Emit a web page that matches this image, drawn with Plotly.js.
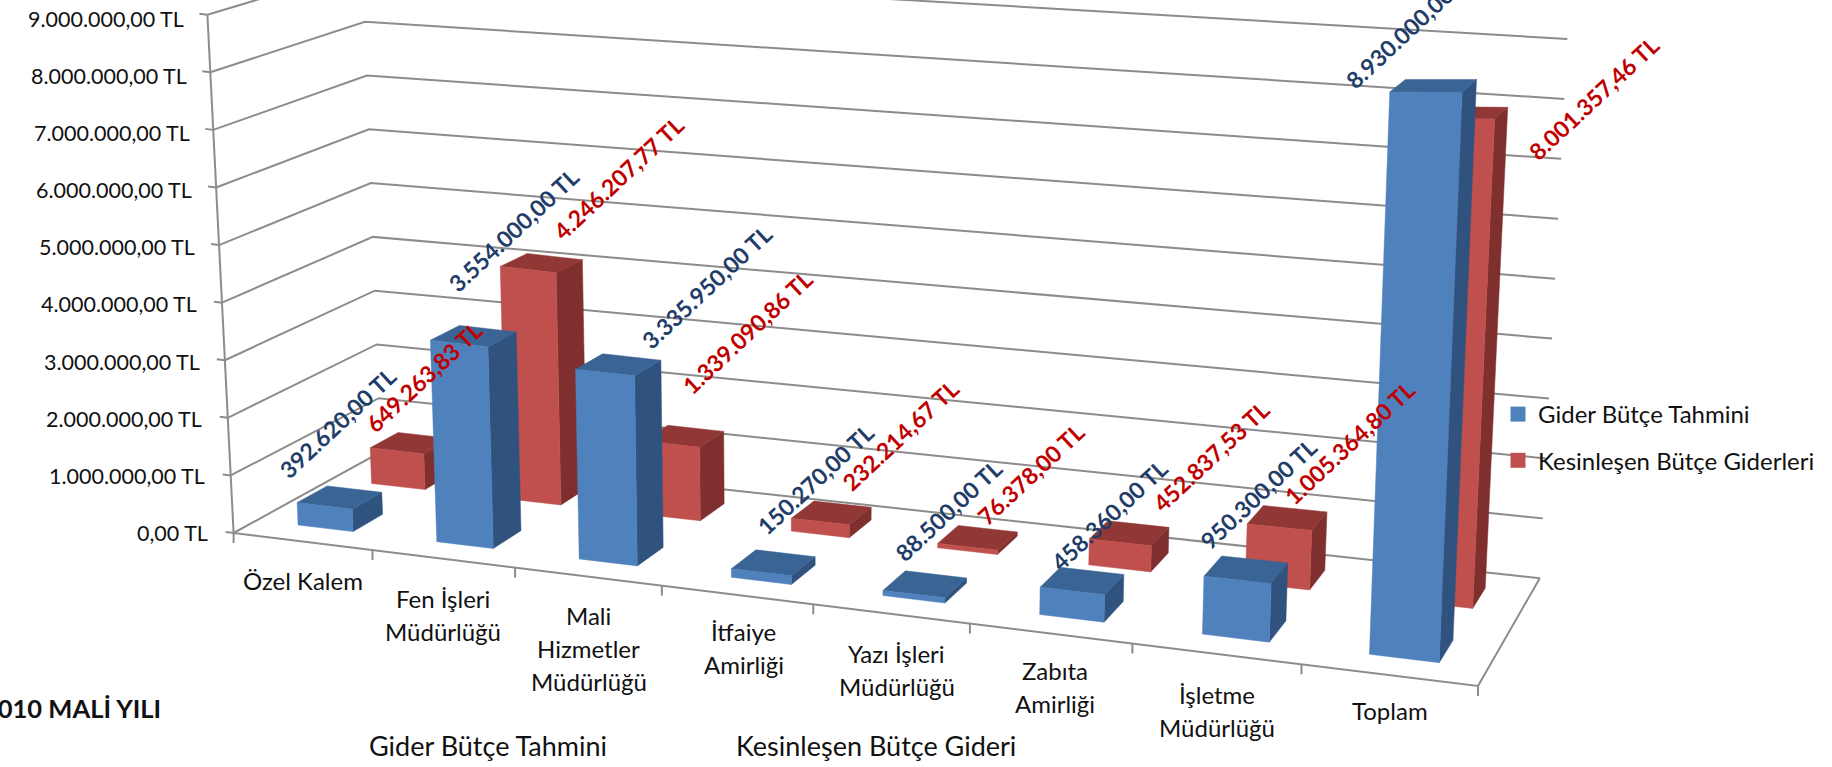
<!DOCTYPE html>
<html><head><meta charset="utf-8">
<script src="https://cdn.plot.ly/plotly-3.0.1.min.js"></script>
<style>html,body{margin:0;padding:0;background:#fff;overflow:hidden}#c{width:1832px;height:767px}</style>
</head><body><div id="c"></div>
<script>
// ---- data ----
const categories = [['Özel Kalem'],['Fen İşleri','Müdürlüğü'],['Mali','Hizmetler','Müdürlüğü'],['İtfaiye','Amirliği'],['Yazı İşleri','Müdürlüğü'],['Zabıta','Amirliği'],['İşletme','Müdürlüğü'],['Toplam']];
const giderTahmini = [392620, 3554000, 3335950, 150270, 88500, 458360, 950300, 8930000];
const kesinlesen = [649263.83, 4246207.77, 1339090.86, 232214.67, 76378, 452837.53, 1005364.80, 8001357.46];
const valueTicks = [0,1000000,2000000,3000000,4000000,5000000,6000000,7000000,8000000,9000000];
const seriesNames = ['Gider Bütçe Tahmini','Kesinleşen Bütçe Giderleri'];

// ---- layout calibration of the 3D box (not data) ----
const floorQuad = [[233.6,533],[1478,686],[1539.8,578.3],[380.7,452]];   // FL, FR, BR, BL
const riseFL=[-26.2,-518.3], riseFR=[24.5,-589], riseBR=[27.5,-539.3], riseBL=[-17.7,-484];
const maxVal = 9000000;
const barNudge = [0,0,0,0.0047,0.0047,0.0047,0.0047,0.003];
const blueLabelOff = [[-2,-74],[40,-106],[88,-78],[42,-84],[24,-74],[27,-66],[12,-76],[-23,-59]];
const redLabelOff  = [[13,-66],[77,-85],[64,-104],[69,-78],[53,-64],[82,-77],[62,-75],[127,-15]];
const catNudgeX = [0,0,1,7,6,5,1,1];
const catLabelY = [580,598,615,631,653,670,694,710];
const FONT = 'Lato, Carlito, Calibri, sans-serif';
const TXT = '#111111', GRID = '#8c8c8c';

function squareToQuad(q){
  const [[x0,y0],[x1,y1],[x2,y2],[x3,y3]] = q;
  const dx1=x1-x2, dx2=x3-x2, sx=x0-x1+x2-x3, dy1=y1-y2, dy2=y3-y2, sy=y0-y1+y2-y3;
  const det=dx1*dy2-dx2*dy1;
  const g=(sx*dy2-dx2*sy)/det, h=(dx1*sy-sx*dy1)/det;
  const a=x1-x0+g*x1, b=x3-x0+h*x3, c=x0, d=y1-y0+g*y1, e=y3-y0+h*y3, f=y0;
  return (u,v)=>{const k=g*u+h*v+1; return [(a*u+b*v+c)/k,(d*u+e*v+f)/k];};
}
const H0=squareToQuad(floorQuad);
function P(u0,v,val,shift){
  const u=u0+0.04*u0*(1-u0)*(1-0.6*u0)+(shift||0);
  const a=H0(u,v), t=val/maxVal*(1-0.2*u0*(1-u0));
  const r=[0,1].map(k=>(riseFL[k]*(1-u)+riseFR[k]*u)*(1-v)+(riseBL[k]*(1-u)+riseBR[k]*u)*v);
  return [a[0]+r[0]*t, a[1]+r[1]*t];
}
const N=categories.length, BAR=0.4, ROW=[[0.15,0.35],[0.65,0.85]];
function barRange(i){const c=(i+0.5)/N, h=BAR/N/2; return [c-h,c+h];}

function faces(vals,row){
  const [v0,v1]=ROW[row];
  const F=[[],[]],S=[[],[]],T=[[],[]];
  const add=(A,pts)=>{pts.concat([pts[0]]).forEach(p=>{A[0].push(p[0]);A[1].push(p[1]);});A[0].push(null);A[1].push(null);};
  vals.forEach((val,i)=>{
    const [u0,u1]=barRange(i), s=barNudge[i];
    add(F,[P(u0,v0,0,s),P(u1,v0,0,s),P(u1,v0,val,s),P(u0,v0,val,s)]);
    add(S,[P(u1,v0,0,s),P(u1,v1,0,s),P(u1,v1,val,s),P(u1,v0,val,s)]);
    add(T,[P(u0,v0,val,s),P(u1,v0,val,s),P(u1,v1,val,s),P(u0,v1,val,s)]);
  });
  return {F,S,T};
}
function poly(A,color){return {type:'scatter',mode:'lines',x:A[0],y:A[1],fill:'toself',fillcolor:color,line:{color:color,width:0.5},hoverinfo:'skip',showlegend:false};}

// grid & frame
const gx=[],gy=[];
const seg=(pts)=>{pts.forEach(p=>{gx.push(p[0]);gy.push(p[1]);});gx.push(null);gy.push(null);};
valueTicks.forEach(w=>{
  seg([P(0,0,w),P(0,1,w),P(1,1,w)]);
  const a=P(0,0,w); seg([a,[a[0]-8,a[1]-1]]);
});
seg([P(0,0,0),P(0,0,maxVal)]);
seg([P(0,0,0),P(1,0,0),P(1,1,0)]);
for(let i=0;i<=N;i++){const a=P(i/N,0,0); seg([a,[a[0],a[1]+10]]);}

const red=faces(kesinlesen,1), blue=faces(giderTahmini,0);
const traces=[
  {type:'scatter',mode:'lines',x:gx,y:gy,line:{color:GRID,width:2},hoverinfo:'skip',showlegend:false},
  poly(red.S,'#7f302e'),poly(red.T,'#913836'),poly(red.F,'#c0504d'),
  poly(blue.S,'#30527f'),poly(blue.T,'#3a6494'),poly(blue.F,'#4f81bd'),
  {type:'scatter',mode:'markers',x:[-100],y:[-100],name:seriesNames[0],marker:{symbol:'square',size:15,color:'#4f81bd'},legendgroup:'a'},
  {type:'scatter',mode:'markers',x:[-100],y:[-100],name:seriesNames[1],marker:{symbol:'square',size:15,color:'#c0504d'},legendgroup:'b'}
];

// text
const ann=[];
const txt=(x,y,text,o={})=>ann.push(Object.assign({x,y,xref:'x',yref:'y',text,showarrow:false,xanchor:'center',yanchor:'middle',font:{family:FONT,size:o.size||22,color:o.color||TXT}},o.extra||{}));
const fmt=v=>v.toLocaleString('tr-TR',{minimumFractionDigits:2,maximumFractionDigits:2})+' TL';
valueTicks.forEach(w=>{const a=P(0,0,w), t=w/maxVal; txt(a[0]-24+3*t,a[1]+t*4,fmt(w),{size:21.5,extra:{xanchor:'right'}});});
categories.forEach((lines,i)=>{
  const c=P((i+0.5)/N,0,0)[0]+catNudgeX[i];
  lines.forEach((s,k)=>txt(c,catLabelY[i]+k*33,s,{size:24}));
});
function dataLabels(vals,row,off,color){
  const vm=(ROW[row][0]+ROW[row][1])/2;
  vals.forEach((val,i)=>{
    const p=P((i+0.5)/N,vm,val,barNudge[i]);
    txt(p[0]+off[i][0],p[1]+off[i][1],'<b>'+fmt(val)+'</b>',{color,size:23,extra:{textangle:-43}});
  });
}
dataLabels(giderTahmini,0,blueLabelOff,'#1f3d68');
dataLabels(kesinlesen,1,redLabelOff,'#c00000');
txt(163,708,'<b>2010 MALİ YILI</b>',{size:25.5,extra:{xanchor:'right'}});
txt(488,745,'Gider Bütçe Tahmini',{size:27});
txt(876,745,'Kesinleşen Bütçe Gideri',{size:27});

Plotly.newPlot('c',traces,{
  width:1832,height:767,margin:{l:0,r:0,t:0,b:0},paper_bgcolor:'#fff',plot_bgcolor:'#fff',
  xaxis:{range:[0,1832],visible:false,fixedrange:true},
  yaxis:{range:[767,0],visible:false,fixedrange:true},
  annotations:ann,
  legend:{x:1498/1832,y:1-392/767,xanchor:'left',yanchor:'top',font:{family:FONT,size:24,color:TXT},bgcolor:'rgba(0,0,0,0)',tracegroupgap:12,traceorder:'grouped'},
  hovermode:false
},{displayModeBar:false,staticPlot:true});
</script></body></html>
